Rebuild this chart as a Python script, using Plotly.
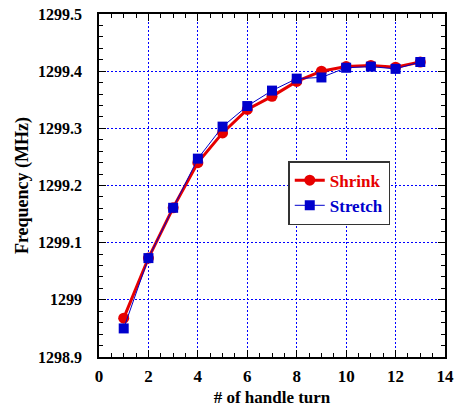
import plotly.graph_objects as go

turns = list(range(1, 14))
shrink = [1298.968, 1299.073, 1299.161, 1299.240, 1299.292, 1299.333, 1299.356,
          1299.382, 1299.400, 1299.408, 1299.410, 1299.407, 1299.416]
stretch = [1298.950, 1299.073, 1299.161, 1299.247, 1299.303, 1299.339, 1299.366,
           1299.387, 1299.389, 1299.406, 1299.408, 1299.404, 1299.416]
y_ticks = [1298.9, 1299.0, 1299.1, 1299.2, 1299.3, 1299.4, 1299.5]
y_labels = ["1298.9", "1299", "1299.1", "1299.2", "1299.3", "1299.4", "1299.5"]
x_ticks = [0, 2, 4, 6, 8, 10, 12, 14]

RED = "#e60000"
BLUE = "#0000cc"
FONT = "Times New Roman"

fig = go.Figure()
fig.add_trace(go.Scatter(
    x=turns, y=shrink, mode="lines+markers",
    name="<b><span style='color:%s'>Shrink</span></b>" % RED,
    line=dict(color=RED, width=3),
    marker=dict(symbol="circle", size=11, color=RED),
))
fig.add_trace(go.Scatter(
    x=turns, y=stretch, mode="lines+markers",
    name="<b><span style='color:%s'>Stretch</span></b>" % BLUE,
    line=dict(color=BLUE, width=1),
    marker=dict(symbol="square", size=10, color=BLUE),
))

axis_common = dict(
    showline=True, linecolor="black", linewidth=1.5, mirror="allticks",
    ticks="inside", ticklen=7, tickwidth=1, tickcolor="black",
    showgrid=True, gridcolor="#0000ff", griddash="2px,2px", gridwidth=1,
    zeroline=False, automargin=False,
)

fig.update_xaxes(
    range=[0, 14], tickvals=x_ticks, ticktext=["<b>%d</b>" % v for v in x_ticks],
    ticklabelstandoff=3,
    tickfont=dict(family=FONT, size=17, color="black"),
    minor=dict(dtick=0.5, ticks="inside", ticklen=4, tickcolor="black", showgrid=False),
    title=dict(text="<b># of handle turn</b>", font=dict(family=FONT, size=17, color="black"), standoff=6),
    **axis_common,
)
fig.update_yaxes(
    range=[1298.9, 1299.5], tickvals=y_ticks, ticktext=["<b>%s</b>" % s for s in y_labels],
    ticklabelstandoff=12,
    tickfont=dict(family=FONT, size=16, color="black"),
    minor=dict(dtick=0.02, tick0=1298.9, ticks="inside", ticklen=4, tickcolor="black", showgrid=False),
    title=dict(text="<b>Frequency (MHz)</b>", font=dict(family=FONT, size=18, color="black"), standoff=5),
    **axis_common,
)

fig.update_layout(
    width=455, height=409,
    margin=dict(l=99, r=10, t=14, b=52),
    plot_bgcolor="white", paper_bgcolor="white",
    font=dict(family=FONT),
    legend=dict(
        x=0.547, y=0.571, xanchor="left", yanchor="top",
        bgcolor="white", bordercolor="#333333", borderwidth=1.5,
        font=dict(family=FONT, size=17),
        tracegroupgap=0, itemsizing="trace",
    ),
    showlegend=True,
)

fig.write_html("out.html")
